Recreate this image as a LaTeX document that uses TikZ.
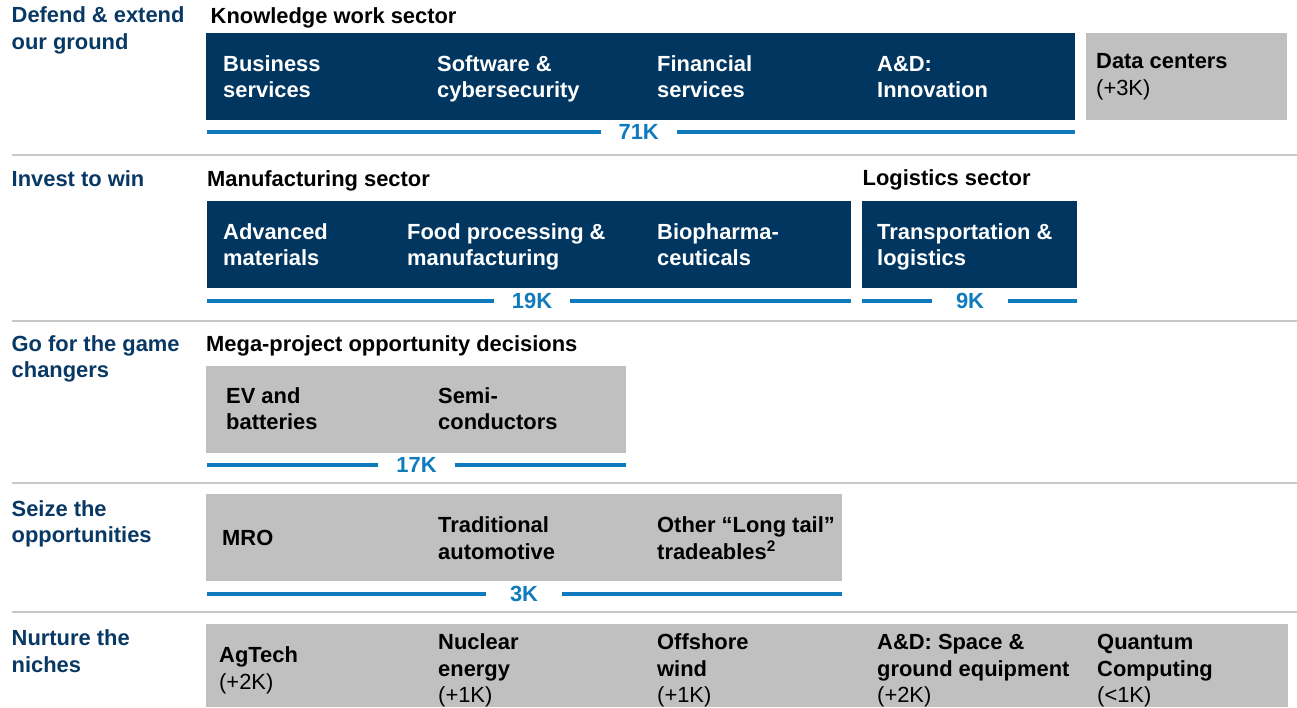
\documentclass[tikz,border=0pt]{standalone}
\usepackage{fontspec}
\setmainfont{Liberation Sans}
\definecolor{navy}{RGB}{0,54,96}
\definecolor{ttlc}{RGB}{8,56,100}
\definecolor{gbox}{RGB}{192,192,192}
\definecolor{sepc}{RGB}{200,200,200}
\definecolor{blc}{RGB}{15,123,189}
\begin{document}
\begin{tikzpicture}[x=1pt,y=-1pt,
  every node/.style={inner sep=0pt, font=\fontsize{21.9}{26.7}\selectfont\bfseries, align=left},
  ttl/.style={anchor=base west, text=ttlc},
  hdr/.style={anchor=base west, text=black},
  wt/.style={anchor=base west, text=white},
  bk/.style={anchor=base west, text=black},
  navybox/.style={fill=navy},
  graybox/.style={fill=gbox},
  sepline/.style={draw=sepc, line width=2pt},
  bline/.style={draw=blc, line width=4pt},
  lbl/.style={text=blc, minimum width=76pt, anchor=center}
]
\useasboundingbox (0,0) rectangle (1297,707);

% separators
\draw[sepline] (12,155) -- (1297,155);
\draw[sepline] (12,321) -- (1297,321);
\draw[sepline] (12,483) -- (1297,483);
\draw[sepline] (12,612) -- (1297,612);

% ---------- Row 1 (multi-line nodes anchored at the baseline of their last line)
\node[ttl] (t1) at (11.5,49.2) {Defend \& extend\\our ground};
\node[hdr] (h1) at (210.5,23) {Knowledge work sector};
\path[navybox] (206,33) rectangle (1075,120);
\path[graybox] (1086,33) rectangle (1287,120);
\node[wt] (b11) at (223,97.7) {Business\\services};
\node[wt] (b12) at (437,97.7) {Software \&\\cybersecurity};
\node[wt] (b13) at (657,97.7) {Financial\\services};
\node[wt] (b14) at (877,97.7) {A\&D:\\Innovation};
\node[bk] (b15) at (1096,95.2) {Data centers\\\mdseries(+3K)};
\node[lbl] (k71) at (638.7,132) {71K};
\draw[bline] (207,132) -- (k71);
\draw[bline] (k71) -- (1075,132);

% ---------- Row 2
\node[ttl] (t2) at (11.5,186) {Invest to win};
\node[hdr] (h2) at (207,186) {Manufacturing sector};
\node[hdr] (h2b) at (862.5,185.5) {Logistics sector};
\path[navybox] (207,201) rectangle (851,288);
\path[navybox] (862,201) rectangle (1077,288);
\node[wt] (b21) at (223,265.7) {Advanced\\materials};
\node[wt] (b22) at (407,265.7) {Food processing \&\\manufacturing};
\node[wt] (b23) at (657,265.7) {Biopharma-\\ceuticals};
\node[wt] (b24) at (877,265.7) {Transportation \&\\logistics};
\node[lbl] (k19) at (532,301) {19K};
\draw[bline] (207,301) -- (k19);
\draw[bline] (k19) -- (851,301);
\node[lbl] (k9) at (970,301) {9K};
\draw[bline] (862,301) -- (k9);
\draw[bline] (k9) -- (1077,301);

% ---------- Row 3
\node[ttl] (t3) at (11.5,377.7) {Go for the game\\changers};
\node[hdr] (h3) at (206,351) {Mega-project opportunity decisions};
\path[graybox] (206,366) rectangle (626,453);
\node[bk] (b31) at (226,429.7) {EV and\\batteries};
\node[bk] (b32) at (438,429.7) {Semi-\\conductors};
\node[lbl] (k17) at (416.5,465) {17K};
\draw[bline] (207,465) -- (k17);
\draw[bline] (k17) -- (626,465);

% ---------- Row 4
\node[ttl] (t4) at (11.5,542.7) {Seize the\\opportunities};
\path[graybox] (206,494) rectangle (842,581);
\node[bk] (b41) at (222,545.5) {MRO};
\node[bk] (b42) at (438,559.2) {Traditional\\automotive};
\node[bk] (b43) at (657,559.2) {Other “Long tail”\\tradeables\textsuperscript{2}};
\node[lbl] (k3) at (524,594) {3K};
\draw[bline] (207,594) -- (k3);
\draw[bline] (k3) -- (842,594);

% ---------- Row 5
\node[ttl] (t5) at (11.5,672.2) {Nurture the\\niches};
\path[graybox] (206,624) rectangle (1288,707);
\node[bk] (b51) at (219,689.2) {AgTech\\\mdseries(+2K)};
\node[bk] (b52) at (438,702.9) {Nuclear\\energy\\\mdseries(+1K)};
\node[bk] (b53) at (657,702.9) {Offshore\\wind\\\mdseries(+1K)};
\node[bk] (b54) at (877,702.9) {A\&D: Space \&\\ground equipment\\\mdseries(+2K)};
\node[bk] (b55) at (1097,702.9) {Quantum\\Computing\\\mdseries(<1K)};
\end{tikzpicture}
\end{document}
